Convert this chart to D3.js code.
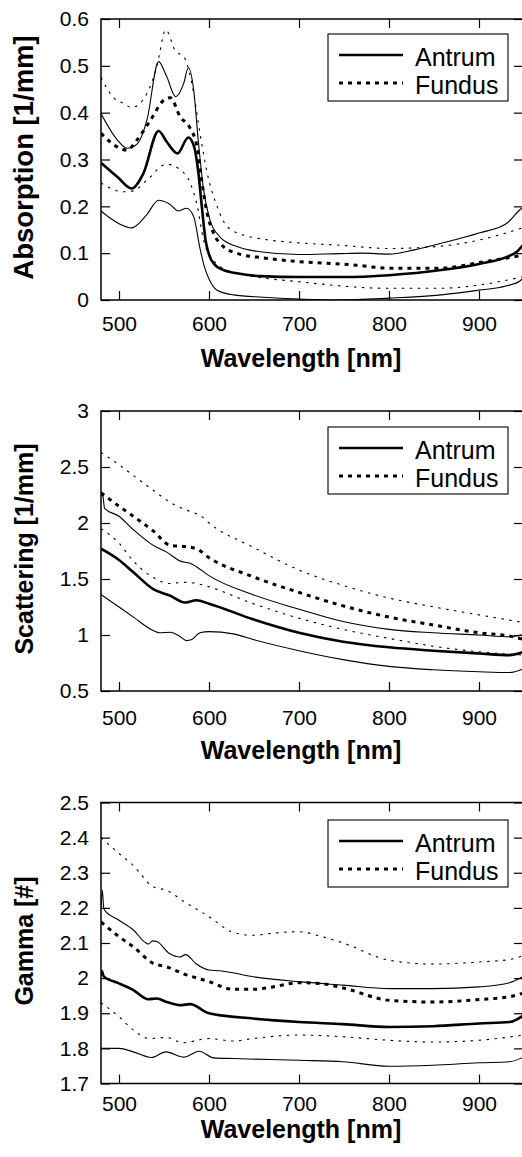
<!DOCTYPE html>
<html><head><meta charset="utf-8">
<script src="https://cdn.jsdelivr.net/npm/d3@7/dist/d3.min.js"></script>
<style>body{margin:0;background:#fff}svg{display:block}</style>
</head><body>
<svg id="c" width="522" height="1157"></svg>
<script>
// ---------- data ----------
const xTicks = [500, 600, 700, 800, 900];
const legendLabels = ["Antrum", "Fundus"];

const absTicks = [0, 0.1, 0.2, 0.3, 0.4, 0.5, 0.6];
const absTickLabels = ["0", "0.1", "0.2", "0.3", "0.4", "0.5", "0.6"];
const scaTicks = [0.5, 1, 1.5, 2, 2.5, 3];
const scaTickLabels = ["0.5", "1", "1.5", "2", "2.5", "3"];
const gamTicks = [1.7, 1.8, 1.9, 2.0, 2.1, 2.2, 2.3, 2.4, 2.5];
const gamTickLabels = ["1.7", "1.8", "1.9", "2", "2.1", "2.2", "2.3", "2.4", "2.5"];

// Absorption [1/mm]
const absAntrumMean = [[480,0.293],[498,0.263],[514,0.238],[527,0.27],[544,0.361],[553,0.338],[565,0.313],[577,0.347],[583,0.33],[588,0.275],[592,0.2],[596,0.13],[600,0.097],[606,0.076],[615,0.065],[631,0.057],[657,0.051],[700,0.049],[750,0.049],[800,0.053],[858,0.064],[900,0.077],[931,0.092],[942,0.103],[950,0.12]];
const absAntrumUpper = [[480,0.398],[498,0.342],[509,0.324],[520,0.333],[531,0.384],[544,0.509],[553,0.477],[563,0.434],[572,0.463],[577,0.496],[583,0.448],[588,0.342],[594,0.235],[601,0.171],[612,0.135],[631,0.114],[657,0.103],[700,0.097],[745,0.099],[770,0.1],[800,0.098],[828,0.107],[858,0.121],[900,0.143],[931,0.164],[944,0.19],[950,0.2]];
const absAntrumLower = [[480,0.19],[490,0.175],[500,0.163],[514,0.154],[530,0.18],[544,0.213],[556,0.205],[566,0.19],[575,0.196],[583,0.178],[590,0.11],[595,0.07],[600,0.045],[609,0.021],[627,0.011],[660,0.006],[700,0.002],[745,0.0],[800,0.004],[858,0.011],[900,0.021],[930,0.03],[945,0.04],[950,0.048]];
const absFundusMean = [[480,0.356],[498,0.327],[509,0.32],[520,0.342],[535,0.384],[550,0.427],[557,0.432],[568,0.391],[579,0.367],[587,0.324],[591,0.267],[598,0.185],[605,0.143],[616,0.114],[634,0.098],[660,0.09],[700,0.082],[760,0.075],[800,0.068],[858,0.068],[900,0.08],[950,0.096]];
const absFundusUpper = [[480,0.475],[495,0.43],[505,0.42],[514,0.411],[531,0.441],[542,0.498],[552,0.577],[562,0.534],[573,0.516],[583,0.441],[590,0.356],[598,0.271],[609,0.2],[620,0.157],[638,0.139],[660,0.13],[700,0.122],[745,0.117],[800,0.11],[858,0.115],[900,0.128],[950,0.155]];
const absFundusLower = [[480,0.25],[495,0.235],[505,0.231],[516,0.233],[531,0.256],[553,0.29],[568,0.278],[580,0.246],[587,0.2],[594,0.128],[605,0.085],[620,0.064],[642,0.053],[700,0.039],[800,0.025],[858,0.025],[900,0.032],[950,0.05]];

// Scattering [1/mm]
const scaAntrumMean = [[480,1.77],[500,1.67],[516,1.56],[538,1.41],[557,1.35],[573,1.29],[586,1.31],[600,1.28],[649,1.14],[700,1.02],[749,0.94],[800,0.89],[849,0.86],[900,0.835],[934,0.82],[950,0.85]];
const scaAntrumUpper = [[480,2.25],[482,2.24],[484,2.13],[500,2.06],[516,1.94],[538,1.80],[553,1.74],[568,1.66],[579,1.64],[586,1.61],[600,1.53],[649,1.36],[700,1.23],[749,1.12],[800,1.05],[849,1.02],[900,1.0],[934,0.985],[950,1.005]];
const scaAntrumLower = [[480,1.36],[500,1.25],[516,1.16],[538,1.04],[545,1.02],[557,1.025],[568,0.985],[575,0.95],[581,0.96],[590,1.02],[600,1.03],[627,1.01],[649,0.96],[700,0.86],[749,0.78],[800,0.72],[849,0.69],[900,0.672],[934,0.665],[950,0.70]];
const scaFundusMean = [[480,2.27],[500,2.15],[516,2.06],[538,1.93],[557,1.80],[573,1.79],[586,1.77],[600,1.69],[649,1.52],[700,1.38],[749,1.26],[800,1.16],[849,1.09],[900,1.02],[934,0.99],[950,0.96]];
const scaFundusUpper = [[480,2.63],[500,2.52],[520,2.40],[540,2.28],[560,2.17],[580,2.10],[590,2.07],[600,2.0],[650,1.78],[700,1.58],[750,1.44],[800,1.33],[850,1.25],[900,1.18],[950,1.11]];
const scaFundusLower = [[480,1.95],[500,1.82],[516,1.66],[541,1.50],[555,1.46],[572,1.47],[586,1.46],[600,1.43],[649,1.28],[700,1.15],[749,1.05],[800,0.97],[849,0.9],[900,0.85],[950,0.82]];

// Gamma [#]
const gamAntrumMean = [[480,2.008],[481,2.02],[483,2.005],[500,1.985],[516,1.966],[532,1.94],[542,1.942],[553,1.932],[568,1.923],[579,1.926],[600,1.9],[649,1.885],[700,1.875],[749,1.869],[800,1.861],[849,1.863],[900,1.871],[934,1.875],[950,1.895]];
const gamAntrumUpper = [[480,2.2],[481.5,2.25],[483,2.2],[485,2.19],[500,2.165],[516,2.137],[530,2.1],[533,2.097],[537,2.106],[542,2.104],[556,2.07],[568,2.06],[574,2.067],[586,2.04],[600,2.023],[612,2.021],[649,2.004],[700,1.99],[749,1.98],[800,1.97],[849,1.97],[900,1.975],[934,1.987],[950,2.006]];
const gamAntrumLower = [[480,1.8],[500,1.8],[516,1.79],[536,1.774],[552,1.79],[572,1.775],[589,1.792],[605,1.773],[627,1.771],[700,1.766],[749,1.762],[800,1.749],[849,1.752],[900,1.759],[934,1.762],[950,1.776]];
const gamFundusMean = [[480,2.16],[500,2.118],[516,2.089],[538,2.042],[553,2.032],[571,2.013],[600,1.99],[627,1.968],[649,1.968],[671,1.975],[700,1.987],[723,1.985],[749,1.972],[800,1.937],[849,1.932],[900,1.939],[934,1.947],[950,1.958]];
const gamFundusUpper = [[480,2.40],[500,2.355],[516,2.32],[538,2.26],[553,2.25],[571,2.22],[600,2.175],[627,2.13],[649,2.122],[671,2.128],[700,2.132],[723,2.12],[749,2.1],[800,2.051],[849,2.04],[900,2.046],[934,2.053],[950,2.065]];
const gamFundusLower = [[480,1.93],[500,1.89],[516,1.852],[534,1.828],[553,1.831],[571,1.816],[600,1.828],[627,1.821],[649,1.828],[700,1.838],[749,1.833],[800,1.823],[849,1.818],[900,1.823],[950,1.838]];

// ---------- styles ----------
const STY = {
  antrumMean: {w: 2.6, dash: null},
  antrumBand: {w: 1.1, dash: null},
  fundusMean: {w: 3.0, dash: "4,5"},
  fundusBand: {w: 1.1, dash: "2.5,5.5"}
};
const FONT = "'Liberation Sans', Arial, Helvetica, sans-serif";

const panels = [
  {title: "Absorption [1/mm]", titleSize: 27.5, domain: [0, 0.6], top: 19, bottom: 300, ticks: absTicks, labels: absTickLabels,
   tickPad: 16, xTitleY: 367, legendTop: 34,
   series: [[absFundusUpper,"fundusBand"],[absFundusLower,"fundusBand"],[absAntrumUpper,"antrumBand"],[absAntrumLower,"antrumBand"],[absFundusMean,"fundusMean"],[absAntrumMean,"antrumMean"]]},
  {title: "Scattering [1/mm]", titleSize: 25, domain: [0.5, 3], top: 411, bottom: 691, ticks: scaTicks, labels: scaTickLabels,
   tickPad: 19, xTitleY: 759, legendTop: 427,
   series: [[scaFundusUpper,"fundusBand"],[scaFundusLower,"fundusBand"],[scaAntrumUpper,"antrumBand"],[scaAntrumLower,"antrumBand"],[scaFundusMean,"fundusMean"],[scaAntrumMean,"antrumMean"]]},
  {title: "Gamma [#]", titleSize: 25, domain: [1.7, 2.5], top: 802.5, bottom: 1083.5, ticks: gamTicks, labels: gamTickLabels,
   tickPad: 12.5, xTitleY: 1138, legendTop: 820,
   series: [[gamFundusUpper,"fundusBand"],[gamFundusLower,"fundusBand"],[gamAntrumUpper,"antrumBand"],[gamAntrumLower,"antrumBand"],[gamFundusMean,"fundusMean"],[gamAntrumMean,"antrumMean"]]}
];

const svg = d3.select("#c");
const x = d3.scaleLinear().domain([480, 950]).range([101, 524]);
const X0 = 101, X1 = 524;

panels.forEach((p, pi) => {
  const y = d3.scaleLinear().domain(p.domain).range([p.bottom, p.top]);
  const g = svg.append("g");

  const clipId = "clip" + pi;
  svg.append("clipPath").attr("id", clipId).append("rect")
    .attr("x", X0).attr("y", p.top).attr("width", X1 - X0).attr("height", p.bottom - p.top);

  // curves
  const line = d3.line().x(d => x(d[0])).y(d => y(d[1])).curve(d3.curveMonotoneX);
  const cg = g.append("g").attr("clip-path", `url(#${clipId})`);
  p.series.forEach(([data, key]) => {
    const s = STY[key];
    cg.append("path").attr("d", line(data)).attr("fill", "none").attr("stroke", "#000")
      .attr("stroke-width", s.w).attr("stroke-dasharray", s.dash).attr("stroke-linejoin", "round");
  });

  // axes
  const styleAxis = sel => {
    sel.select(".domain").remove();
    sel.selectAll(".tick line").attr("stroke", "#000").attr("stroke-width", 1.2);
    sel.selectAll("text").attr("font-family", FONT).attr("font-size", 21).attr("fill", "#000");
  };
  g.append("g").attr("transform", `translate(0,${p.bottom})`)
    .call(d3.axisBottom(x).tickValues(xTicks).tickSize(-9).tickPadding(p.tickPad).tickFormat(d3.format("d")))
    .call(styleAxis);
  g.append("g").attr("transform", `translate(0,${p.top})`)
    .call(d3.axisTop(x).tickValues(xTicks).tickSize(-9).tickFormat(""))
    .call(styleAxis);
  g.append("g").attr("transform", `translate(${X0},0)`)
    .call(d3.axisLeft(y).tickValues(p.ticks).tickSize(-9).tickPadding(12).tickFormat((d, i) => p.labels[i]))
    .call(styleAxis);
  g.append("g").attr("transform", `translate(${X1},0)`)
    .call(d3.axisRight(y).tickValues(p.ticks).tickSize(-10).tickFormat(""))
    .call(styleAxis);

  // frame
  g.append("rect").attr("x", X0).attr("y", p.top).attr("width", X1 - X0).attr("height", p.bottom - p.top)
    .attr("fill", "none").attr("stroke", "#000").attr("stroke-width", 1.5);

  // titles
  g.append("text").attr("x", 301).attr("y", p.xTitleY).attr("text-anchor", "middle")
    .attr("font-family", FONT).attr("font-weight", "bold").attr("font-size", 25).text("Wavelength [nm]");
  const cy = (p.top + p.bottom) / 2 - 2;
  g.append("text").attr("transform", `translate(33,${cy}) rotate(-90)`).attr("text-anchor", "middle")
    .attr("font-family", FONT).attr("font-weight", "bold").attr("font-size", p.titleSize).text(p.title);

  // legend
  const lg = g.append("g").attr("transform", `translate(328,${p.legendTop})`);
  lg.append("rect").attr("x", 0).attr("y", 0).attr("width", 180).attr("height", 67)
    .attr("fill", "#fff").attr("stroke", "#000").attr("stroke-width", 1.1);
  [["antrumMean", 21], ["fundusMean", 49]].forEach(([key, ly], i) => {
    const s = STY[key];
    lg.append("line").attr("x1", 11).attr("x2", 75).attr("y1", ly).attr("y2", ly)
      .attr("stroke", "#000").attr("stroke-width", s.w).attr("stroke-dasharray", s.dash);
    lg.append("text").attr("x", 87).attr("y", ly + 11).attr("font-family", FONT).attr("font-size", 25)
      .attr("fill", "#000").text(legendLabels[i]);
  });
});
</script>
</body></html>
